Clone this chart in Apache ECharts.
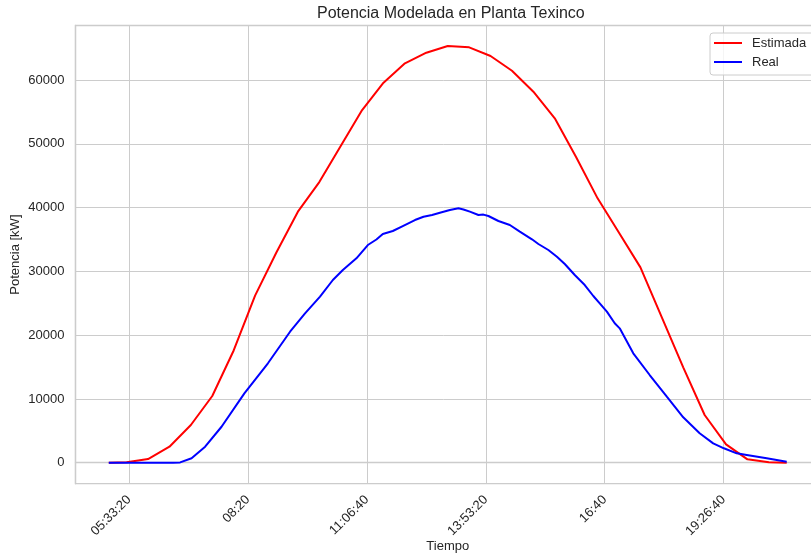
<!DOCTYPE html>
<html>
<head>
<meta charset="utf-8">
<script src="https://cdn.jsdelivr.net/npm/echarts@6/dist/echarts.min.js"></script>
<style>
html,body{margin:0;padding:0;background:#fff;}
#chart{width:811px;height:557px;}
</style>
</head>
<body>
<div id="chart"></div>
<script>
// ---- Data ----
const titleText = 'Potencia Modelada en Planta Texinco';
const xAxisName = 'Tiempo';
const yAxisName = 'Potencia [kW]';
const seriesNames = ['Estimada', 'Real'];

// x tick positions (seconds since midnight) and their labels
const xTickValues = [20000, 30000, 40000, 50000, 60000, 70000];
const xTickLabels = ['05:33:20', '08:20', '11:06:40', '13:53:20', '16:40', '19:26:40'];
const yTickValues = [0, 10000, 20000, 30000, 40000, 50000, 60000];

// Estimada (red)
const estTimes = ['05:05','05:30','06:00','06:30','07:00','07:30','08:00','08:30','09:00','09:30',
  '10:00','10:30','11:00','11:30','12:00','12:30','13:00','13:30','14:00','14:30','15:00','15:30',
  '16:00','16:30','17:00','17:30','18:00','18:30','19:00','19:30','20:00','20:30','20:55'];
const estValues = [0, 80, 580, 2510, 5910, 10460, 17600, 26200, 32990, 39360,
  44000, 49660, 55300, 59580, 62620, 64290, 65330, 65130, 63770, 61460, 58170, 54000,
  47900, 41450, 36060, 30630, 22800, 14950, 7480, 2880, 530, 60, 0];

// Real (blue)
const realTimes = ['05:05','06:00','06:35','06:45','07:01','07:20','07:43','08:15','08:48','09:19',
  '09:40','10:01','10:19','10:33','10:52','11:08','11:20','11:29','11:43','11:57','12:14','12:26',
  '12:38','12:49','13:03','13:15','13:22','13:31','13:43','13:50','13:57','14:11','14:27','14:41',
  '14:58','15:07','15:21','15:33','15:44','15:58','16:12','16:24','16:33','16:43','16:54','17:01',
  '17:20','17:43','18:07','18:30','18:53','19:12','19:27','19:45','19:59','20:27','20:55'];
const realValues = [0, 0, 0, 50, 690, 2510, 5640, 10880, 15590, 20540,
  23420, 26030, 28650, 30210, 32050, 34130, 35000, 35860, 36330, 37110, 38050, 38570,
  38850, 39200, 39620, 39890, 39700, 39360, 38840, 38900, 38680, 37900, 37270, 36220,
  35030, 34290, 33350, 32300, 31150, 29430, 27860, 26140, 24990, 23680, 21860, 21070,
  17150, 13750, 10350, 7120, 4610, 3040, 2260, 1470, 1210, 690, 160];

// ---- helpers ----
function toSec(s){ const p = s.split(':').map(Number); return p[0]*3600 + p[1]*60 + (p[2]||0); }
function pairs(times, vals){ return times.map((t,i)=>[toSec(t), vals[i]]); }

const FONT = '"Liberation Sans", Arial, "DejaVu Sans", sans-serif';
const TXT = '#262626';
const GRID = '#cccccc';

const chart = echarts.init(document.getElementById('chart'), null, {renderer:'canvas'});
chart.setOption({
  animation: false,
  backgroundColor: '#ffffff',
  textStyle: {fontFamily: FONT},
  title: {
    text: titleText,
    left: 312, top: 1,
    textStyle: {fontSize: 16, fontWeight: 'normal', color: TXT, fontFamily: FONT}
  },
  legend: {
    data: seriesNames,
    orient: 'vertical',
    left: 710, top: 33,
    padding: [3, 12, 6, 4],
    itemWidth: 28, itemHeight: 2, itemGap: 5,
    icon: 'rect',
    backgroundColor: 'rgba(255,255,255,0.8)',
    borderColor: GRID, borderWidth: 1, borderRadius: 3,
    textStyle: {fontSize: 13, color: TXT, fontFamily: FONT, lineHeight: 14, padding: [0,0,0,5]}
  },
  grid: {
    left: 75.5, right: -9, top: 25.5, bottom: 73.3,
    outerBoundsMode: 'none', containLabel: false,
    show: true, borderColor: GRID, borderWidth: 1.3, backgroundColor: '#ffffff'
  },
  xAxis: {
    type: 'value',
    min: 15500, max: 78100,
    name: xAxisName, nameLocation: 'middle', nameGap: 56, nameMoveOverlap: false,
    nameTextStyle: {fontSize: 13, color: TXT, fontFamily: FONT},
    axisLine: {show: true, lineStyle: {color: GRID, width: 1.3}},
    axisTick: {show: false, customValues: xTickValues},
    splitLine: {show: true, lineStyle: {color: GRID, width: 1}},
    axisLabel: {
      customValues: xTickValues,
      rotate: 45, margin: 14,
      fontSize: 13, color: TXT, fontFamily: FONT,
      formatter: function(v){ const i = xTickValues.indexOf(v); return i >= 0 ? xTickLabels[i] : ''; }
    }
  },
  yAxis: {
    type: 'value',
    min: -3290, max: 68550,
    name: yAxisName, nameLocation: 'middle', nameGap: 54, nameMoveOverlap: false,
    nameTextStyle: {fontSize: 13, color: TXT, fontFamily: FONT},
    axisLine: {show: true, lineStyle: {color: GRID, width: 1.3}},
    axisTick: {show: false, customValues: yTickValues},
    splitLine: {show: true, lineStyle: {color: GRID, width: 1}},
    axisLabel: {
      customValues: yTickValues,
      margin: 11,
      fontSize: 13, color: TXT, fontFamily: FONT,
      formatter: function(v){ return String(v); }
    }
  },
  series: [
    {
      name: seriesNames[0], type: 'line', data: pairs(estTimes, estValues),
      showSymbol: false, symbol: 'none',
      lineStyle: {color: '#ff0000', width: 2}, itemStyle: {color: '#ff0000'}, z: 3
    },
    {
      name: seriesNames[1], type: 'line', data: pairs(realTimes, realValues),
      showSymbol: false, symbol: 'none',
      lineStyle: {color: '#0000ff', width: 2}, itemStyle: {color: '#0000ff'}, z: 4
    }
  ]
});
</script>
</body>
</html>
